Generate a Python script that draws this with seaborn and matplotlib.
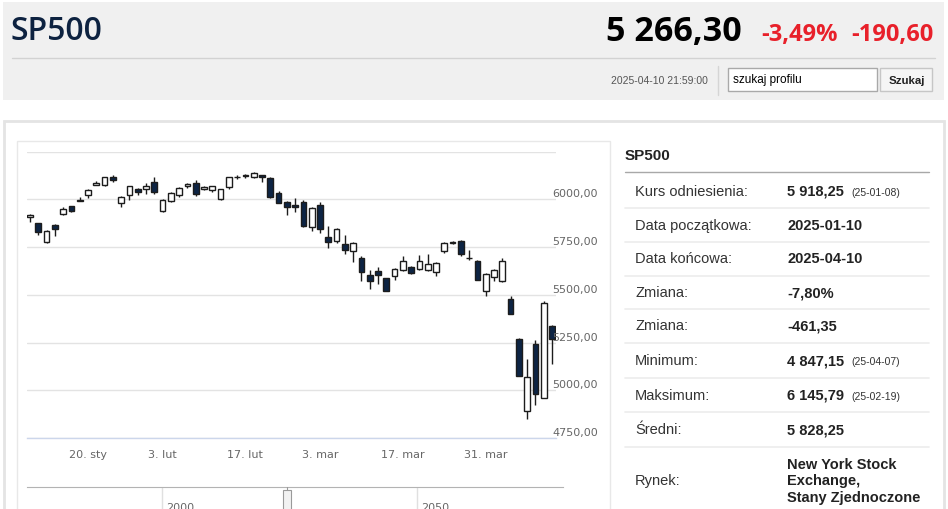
import matplotlib
matplotlib.use("Agg")
import matplotlib.pyplot as plt
import matplotlib.transforms as mtransforms
from matplotlib.patches import Rectangle
import seaborn as sns

sns.set_style("white")
plt.rcParams['font.family'] = ['DejaVu Sans']

# --- data -----------------------------------------------------------------
dates = ["01-08", "01-10", "01-13", "01-14", "01-15", "01-16", "01-17",
         "01-21", "01-22", "01-23", "01-24", "01-27", "01-28", "01-29", "01-30", "01-31",
         "02-03", "02-04", "02-05", "02-06", "02-07", "02-10", "02-11", "02-12", "02-13", "02-14",
         "02-18", "02-19", "02-20", "02-21", "02-24", "02-25", "02-26", "02-27", "02-28",
         "03-03", "03-04", "03-05", "03-06", "03-07", "03-10", "03-11", "03-12", "03-13", "03-14",
         "03-17", "03-18", "03-19", "03-20", "03-21", "03-24", "03-25", "03-26", "03-27", "03-28",
         "03-31", "04-01", "04-02", "04-03", "04-04", "04-07", "04-08", "04-09", "04-10"]
opens = [5910, 5874, 5777, 5864, 5923, 5963, 5990, 6021, 6078, 6073, 6120, 5979, 6021, 6057, 6057, 6089,
         5937, 5990, 6021, 6068, 6084, 6057, 6047, 6000, 6063, 6115, 6121, 6115, 6126, 6110, 6031,
         5984, 5969, 5984, 5858, 5969, 5801, 5780, 5765, 5728, 5691, 5602, 5623, 5587, 5597, 5629,
         5644, 5634, 5629, 5618, 5728, 5772, 5780, 5694, 5676, 5519, 5592, 5571, 5479, 5268, 4891,
         5242, 4959, 5336]
highs = [5922, 5878, 5838, 5870, 5962, 5965, 6014, 6054, 6098, 6119, 6126, 6017, 6070, 6062, 6086, 6118,
         6000, 6040, 6065, 6085, 6100, 6070, 6072, 6054, 6116, 6127, 6132, 6145.79, 6130, 6115, 6045,
         5990, 6009, 5995, 5960, 5986, 5860, 5850, 5812, 5775, 5702, 5629, 5644, 5590, 5640, 5705,
         5650, 5710, 5712, 5670, 5775, 5780, 5785, 5735, 5680, 5612, 5636, 5695, 5492, 5275, 5165,
         5263, 5467, 5340]
lows = [5880, 5812, 5773, 5810, 5920, 5935, 5990, 6010, 6075, 6070, 6090, 5962, 5998, 6023, 6027, 6030,
        5932, 5985, 6012, 6062, 6020, 6050, 6040, 5995, 6056, 6108, 6110, 6112, 6089, 6008, 5980,
        5918, 5932, 5858, 5837, 5822, 5744, 5770, 5712, 5670, 5571, 5529, 5555, 5519, 5576, 5625,
        5610, 5630, 5625, 5600, 5720, 5768, 5705, 5681, 5576, 5496, 5570, 5568, 5398, 5074, 4847.15,
        4923, 4958, 5137]
closes = [5918.25, 5827, 5836, 5843, 5949, 5937, 5997, 6047, 6086, 6115, 6100, 6013, 6068, 6039, 6071, 6040,
          5995, 6036, 6061, 6080, 6026, 6066, 6068, 6052, 6115, 6115, 6128, 6140, 6117, 6013, 5983,
          5958, 5958, 5860, 5956, 5845, 5777, 5843, 5733, 5770, 5618, 5571, 5602, 5519, 5634, 5676,
          5613, 5676, 5660, 5665, 5770, 5776, 5712, 5691, 5576, 5608, 5629, 5676, 5398, 5074, 5069,
          4980, 5456.90, 5266.30]

price_levels = [4750, 5000, 5250, 5500, 5750, 6000, 6250]
price_labels = ["4750,00", "5000,00", "5250,00", "5500,00", "5750,00", "6000,00", ""]
tick_dates = ["01-21", "02-03", "02-18", "03-03", "03-17", "03-31"]
tick_labels = ["20. sty", "3. lut", "17. lut", "3. mar", "17. mar", "31. mar"]
nav_ticks = [2000, 2050]

info_labels = ["Kurs odniesienia:", "Data początkowa:", "Data końcowa:", "Zmiana:", "Zmiana:",
               "Minimum:", "Maksimum:", "Średni:", "Rynek:"]
info_values = ["5 918,25", "2025-01-10", "2025-04-10", "-7,80%", "-461,35",
               "4 847,15", "6 145,79", "5 828,25", "New York Stock\nExchange,\nStany Zjednoczone"]
info_notes = ["(25-01-08)", "", "", "", "", "(25-04-07)", "(25-02-19)", "", ""]

# --- figure helpers ---------------------------------------------------------
W, H = 948, 510
fig = plt.figure(figsize=(W / 100, H / 100), dpi=100)
fig.patch.set_facecolor("white")


def fx(x):
    return x / W


def fy(y):
    return 1 - y / H


def box(x0, y0, x1, y1, fc="none", ec="none", lw=1.0, z=0):
    fig.add_artist(Rectangle((fx(x0), fy(y1)), (x1 - x0) / W, (y1 - y0) / H,
                             transform=fig.transFigure, facecolor=fc, edgecolor=ec,
                             linewidth=lw, zorder=z))


def hline(x0, x1, y, color, lw=1.0):
    fig.add_artist(plt.Line2D([fx(x0), fx(x1)], [fy(y), fy(y)], color=color, lw=lw,
                              transform=fig.transFigure))


def vline(x, y0, y1, color, lw=1.0):
    fig.add_artist(plt.Line2D([fx(x), fx(x)], [fy(y0), fy(y1)], color=color, lw=lw,
                              transform=fig.transFigure))


opensans = ['Open Sans', 'DejaVu Sans']
arial = ['Liberation Sans', 'DejaVu Sans']

# --- header -----------------------------------------------------------------
box(3, 3, 944, 101, fc="#f0f0f0")
fig.text(fx(10), fy(31.5), "SP500", family=opensans, fontsize=23, fontweight=600,
         color="#0d2240", va="center", ha="left")
fig.text(fx(742), fy(32), "5 266,30", family=opensans, fontsize=24.5, fontweight="bold",
         color="black", va="center", ha="right")
fig.text(fx(838), fy(35), "-3,49%", family=opensans, fontsize=17, fontweight="bold",
         color="#e8202a", va="center", ha="right")
fig.text(fx(934), fy(35), "-190,60", family=opensans, fontsize=17, fontweight="bold",
         color="#e8202a", va="center", ha="right")
hline(12, 935, 59, "#d2d2d2")
fig.text(fx(708), fy(81), "2025-04-10 21:59:00", family=arial, fontsize=7.5,
         color="#555555", va="center", ha="right")
vline(718, 67, 96, "#d5d5d5")
box(728, 69, 877, 92, fc="white", ec="#a9a9a9", lw=1)
fig.text(fx(733), fy(80.5), "szukaj profilu", family=arial, fontsize=8.5,
         color="black", va="center", ha="left")
box(880, 69, 932, 92, fc="#f5f5f5", ec="#c6c6c6", lw=1)
fig.text(fx(906.5), fy(80.5), "Szukaj", family=arial, fontsize=8.2, fontweight="bold",
         color="#222222", va="center", ha="center")

# --- content panels ---------------------------------------------------------
box(4, 122, 944, 520, fc="white", ec="#e4e4e4", lw=2)
box(17, 142, 610, 520, fc="white", ec="#e8e8e8", lw=1)

# --- candlestick chart ------------------------------------------------------
ax = fig.add_axes([fx(27), fy(439), 529 / W, (439 - 152.7) / H])
ax.set_facecolor("none")
idx = list(range(len(dates)))
bodies_low = [min(o, c) for o, c in zip(opens, closes)]
bodies_h = [max(abs(c - o), 1.5) for o, c in zip(opens, closes)]
fills = ["#0d2444" if c < o else "white" for o, c in zip(opens, closes)]

ax.vlines(idx, lows, highs, color="#1c1c1c", lw=1.0, zorder=2)
ax.bar(idx, bodies_h, bottom=bodies_low, width=0.7, color=fills,
       edgecolor="#1c1c1c", linewidth=1.0, zorder=3)

ax.set_xlim(-0.36, 63.48)
ax.set_ylim(4750, 6250)
ax.set_yticks(price_levels)
ax.set_yticklabels([])
ax.tick_params(axis="y", length=0)
ax.grid(axis="y", color="#e3e3e3", lw=1)
ax.grid(axis="x", visible=False)
sns.despine(ax=ax, left=True, right=True, top=True)
ax.spines["bottom"].set_color("#ccd6eb")
ax.spines["bottom"].set_linewidth(1)

ax.set_xticks([dates.index(d) for d in tick_dates])
ax.set_xticklabels(tick_labels)
ax.tick_params(axis="x", length=6, width=0.8, color="#ccd6eb", labelsize=8,
               labelcolor="#666666", pad=2, direction="out")

lab_tr = mtransforms.offset_copy(ax.get_yaxis_transform(), fig=fig, y=6, units="dots")
for lvl, txt in zip(price_levels, price_labels):
    ax.text(0.9924, lvl, txt, transform=lab_tr, fontsize=8, color="#666666",
            ha="left", va="center", clip_on=False)

# --- navigator strip --------------------------------------------------------
nav = fig.add_axes([fx(27), 0, 536 / W, fy(488)])
nav.set_facecolor("none")
nav.set_xlim(1973.5, 2078.6)
nav.set_ylim(0, 1)
nav.set_xticks([])
nav.set_yticks([])
for s in ["left", "right", "bottom"]:
    nav.spines[s].set_visible(False)
nav.spines["top"].set_color("#b3b3b3")
for t in nav_ticks:
    nav.axvline(t, color="#e0e0e0", lw=1)
    nav.text(t + 0.8, 0.3, str(t), fontsize=8, color="#666666", ha="left", va="top")
box(283, 491, 291, 512, fc="#f2f2f2", ec="#9a9a9a", lw=0.8, z=5)
vline(287, 488, 491, "#9a9a9a", 0.8)
vline(286, 495, 505, "#9a9a9a", 0.6)
vline(288, 495, 505, "#9a9a9a", 0.6)

# --- info table -------------------------------------------------------------
fig.text(fx(625), fy(156), "SP500", family=arial, fontsize=11, fontweight="bold",
         color="#222222", va="center", ha="left")
hline(625, 929, 172.5, "#a8a8a8")
row_y = [191.5, 226, 259.5, 293.5, 326.5, 361, 396, 430.5, 481.5]
for i, (lab, val, note) in enumerate(zip(info_labels, info_values, info_notes)):
    y = row_y[i]
    fig.text(fx(635), fy(y), lab, family=arial, fontsize=10.5, color="#333333",
             va="center", ha="left")
    fig.text(fx(787), fy(y), val, family=arial, fontsize=10.5, fontweight="bold",
             color="#222222", va="center", ha="left", linespacing=1.2)
    if note:
        fig.text(fx(851), fy(y + 1), note, family=arial, fontsize=7.5,
                 color="#333333", va="center", ha="left")
    if i < len(info_labels) - 1:
        hline(625, 929, (row_y[i] + row_y[i + 1]) / 2 if i < 7 else 447.5, "#ececec", 1.2)

fig.savefig("out.png", dpi=100, facecolor="white")
